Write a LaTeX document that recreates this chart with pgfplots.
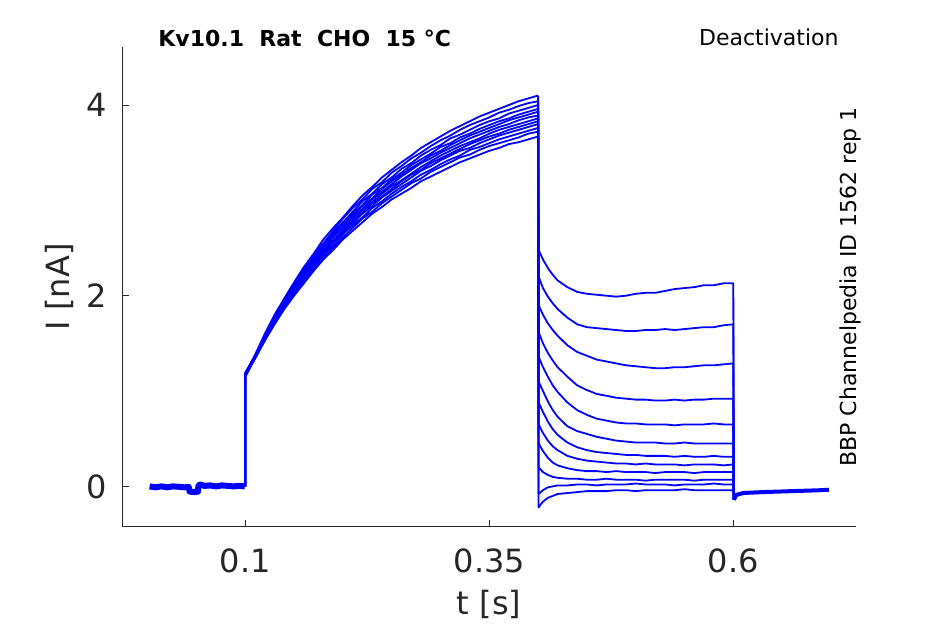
\documentclass[border=0pt]{standalone}
\usepackage{fontspec}
\setmainfont{DejaVu Sans}
\usepackage{pgfplots}
\usepackage{pgfplotstable}
\pgfplotsset{compat=1.18}
\definecolor{txt}{HTML}{262626}

% activation phase (0.1 s - 0.4 s), one column per sweep
\pgfplotstableread{
t a1 a2 a3 a4 a5 a6 a7 a8 a9 a10 a11 a12
0.10 0 0 0 0 0 0 0 0 0 0 0 0
0.10 1.18 1.16 1.19 1.17 1.18 1.15 1.19 1.17 1.16 1.18 1.17 1.15
0.11 1.38 1.36 1.37 1.37 1.35 1.36 1.37 1.35 1.36 1.34 1.35 1.34
0.12 1.60 1.57 1.58 1.58 1.56 1.57 1.55 1.56 1.54 1.55 1.53 1.53
0.13 1.80 1.78 1.78 1.77 1.75 1.76 1.74 1.74 1.74 1.72 1.72 1.70
0.14 1.97 1.97 1.94 1.94 1.93 1.91 1.91 1.90 1.89 1.89 1.87 1.86
0.15 2.14 2.13 2.10 2.10 2.09 2.07 2.07 2.05 2.05 2.03 2.02 2.00
0.16 2.30 2.27 2.27 2.24 2.24 2.22 2.21 2.19 2.19 2.16 2.16 2.13
0.17 2.44 2.43 2.40 2.39 2.37 2.36 2.34 2.33 2.32 2.30 2.28 2.26
0.18 2.59 2.55 2.54 2.51 2.51 2.48 2.47 2.45 2.44 2.42 2.39 2.38
0.19 2.71 2.68 2.66 2.64 2.62 2.61 2.58 2.57 2.56 2.53 2.51 2.48
0.20 2.82 2.81 2.77 2.76 2.73 2.72 2.69 2.68 2.66 2.64 2.61 2.59
0.21 2.94 2.92 2.88 2.86 2.84 2.82 2.80 2.78 2.76 2.74 2.71 2.68
0.22 3.05 3.01 2.99 2.95 2.94 2.91 2.90 2.87 2.86 2.82 2.81 2.77
0.23 3.14 3.12 3.07 3.06 3.02 3.01 2.98 2.97 2.94 2.92 2.88 2.86
0.24 3.24 3.19 3.17 3.13 3.12 3.09 3.07 3.04 3.03 2.99 2.97 2.93
0.25 3.32 3.29 3.24 3.22 3.20 3.17 3.15 3.12 3.10 3.07 3.04 3.01
0.26 3.40 3.36 3.33 3.29 3.27 3.25 3.21 3.20 3.17 3.14 3.11 3.07
0.27 3.47 3.44 3.39 3.37 3.34 3.32 3.28 3.27 3.24 3.20 3.18 3.13
0.28 3.55 3.50 3.47 3.43 3.40 3.39 3.35 3.32 3.31 3.27 3.23 3.20
0.29 3.61 3.57 3.53 3.49 3.47 3.44 3.41 3.39 3.36 3.32 3.30 3.25
0.30 3.67 3.63 3.58 3.56 3.52 3.50 3.47 3.44 3.42 3.38 3.35 3.30
0.31 3.73 3.68 3.65 3.60 3.58 3.55 3.52 3.49 3.47 3.43 3.40 3.35
0.32 3.78 3.74 3.69 3.66 3.63 3.60 3.57 3.54 3.52 3.47 3.45 3.40
0.33 3.83 3.79 3.74 3.70 3.68 3.65 3.61 3.59 3.55 3.53 3.48 3.44
0.34 3.88 3.83 3.79 3.75 3.72 3.69 3.65 3.63 3.60 3.56 3.53 3.48
0.35 3.92 3.87 3.83 3.79 3.76 3.73 3.70 3.67 3.64 3.60 3.57 3.52
0.36 3.96 3.92 3.86 3.83 3.80 3.77 3.74 3.70 3.68 3.64 3.60 3.55
0.37 4.00 3.95 3.91 3.86 3.84 3.80 3.77 3.74 3.71 3.67 3.63 3.59
0.38 4.04 3.99 3.94 3.90 3.87 3.84 3.80 3.77 3.74 3.70 3.66 3.61
0.39 4.07 4.02 3.97 3.93 3.90 3.87 3.83 3.80 3.77 3.73 3.70 3.64
0.40 4.10 4.04 4.00 3.96 3.93 3.89 3.86 3.83 3.80 3.76 3.72 3.67
}\act

% tail (deactivation) phase (0.4 s - 0.6 s)
\pgfplotstableread{
t b1 b2 b3 b4 b5 b6 b7 b8 b9 b10 b11 b12
0.400 4.10 4.04 4.00 3.96 3.93 3.89 3.86 3.83 3.80 3.76 3.72 3.67
0.4005 2.48 2.20 1.90 1.62 1.36 1.10 0.88 0.65 0.45 0.20 -0.08 -0.22
0.405 2.38 2.08 1.80 1.50 1.25 1.00 0.78 0.56 0.37 0.15 -0.04 -0.16
0.410 2.29 1.99 1.71 1.40 1.15 0.89 0.68 0.48 0.30 0.12 -0.01 -0.12
0.415 2.22 1.92 1.64 1.32 1.06 0.80 0.60 0.42 0.25 0.10 0.00 -0.10
0.420 2.16 1.86 1.58 1.25 0.99 0.73 0.54 0.38 0.22 0.09 0.01 -0.08
0.430 2.09 1.77 1.48 1.15 0.88 0.63 0.46 0.32 0.19 0.08 0.01 -0.07
0.440 2.04 1.70 1.41 1.06 0.80 0.58 0.41 0.29 0.17 0.08 0.02 -0.06
0.450 2.02 1.67 1.37 1.01 0.75 0.55 0.38 0.27 0.16 0.07 0.02 -0.05
0.460 2.01 1.66 1.33 0.97 0.71 0.52 0.36 0.26 0.16 0.07 0.01 -0.05
0.470 2.00 1.65 1.31 0.95 0.69 0.50 0.35 0.25 0.15 0.08 0.02 -0.05
0.480 1.99 1.64 1.29 0.93 0.67 0.48 0.34 0.24 0.16 0.07 0.02 -0.04
0.490 2.00 1.63 1.27 0.92 0.66 0.47 0.33 0.24 0.15 0.07 0.02 -0.04
0.500 2.02 1.63 1.26 0.91 0.66 0.46 0.33 0.23 0.15 0.07 0.03 -0.05
0.510 2.03 1.64 1.25 0.91 0.65 0.46 0.32 0.24 0.15 0.06 0.02 -0.04
0.520 2.03 1.64 1.24 0.90 0.65 0.46 0.32 0.23 0.14 0.07 0.02 -0.04
0.530 2.05 1.65 1.24 0.90 0.65 0.45 0.32 0.23 0.15 0.07 0.02 -0.04
0.540 2.07 1.64 1.25 0.91 0.64 0.45 0.31 0.23 0.15 0.07 0.01 -0.04
0.550 2.08 1.65 1.25 0.90 0.65 0.46 0.32 0.22 0.15 0.07 0.02 -0.03
0.560 2.09 1.66 1.26 0.91 0.65 0.45 0.31 0.23 0.14 0.06 0.02 -0.04
0.570 2.11 1.67 1.27 0.91 0.65 0.45 0.31 0.23 0.15 0.07 0.02 -0.04
0.580 2.11 1.67 1.27 0.92 0.66 0.45 0.32 0.23 0.15 0.07 0.03 -0.04
0.590 2.13 1.69 1.28 0.92 0.65 0.45 0.31 0.22 0.15 0.07 0.02 -0.04
0.600 2.13 1.70 1.29 0.92 0.65 0.45 0.31 0.23 0.15 0.07 0.02 -0.04
0.6005 -0.14 -0.14 -0.14 -0.14 -0.14 -0.14 -0.14 -0.14 -0.14 -0.14 -0.14 -0.14
}\tail

\begin{document}
\begin{tikzpicture}
\begin{axis}[
  at={(0,0)}, anchor=south west,
  scale only axis,
  width=366.85pt, height=239.85pt,
  xmin=-0.026, xmax=0.7257,
  ymin=-0.423, ymax=4.609,
  axis x line=bottom, axis y line=left,
  axis line style={-, draw=txt, line width=0.5pt},
  tick align=inside,
  major tick length=3.5pt,
  tick style={draw=txt, line width=0.5pt},
  xtick={0.1,0.35,0.6}, xticklabels={0.1,0.35,0.6},
  ytick={0,2,4}, yticklabels={0,2,4},
  /pgf/number format/assume math mode=true,
  ticklabel style={font=\fontsize{16}{19}\selectfont, text=txt},
  xticklabel style={anchor=north, inner sep=0pt, yshift=-10.65pt},
  yticklabel style={anchor=east, inner sep=0pt, xshift=-7.65pt},
  xlabel={t [s]}, ylabel={I [nA]},
  label style={font=\fontsize{16}{19}\selectfont, text=txt},
  xlabel style={at={(axis description cs:0.5,-0.163)}, anchor=center},
  ylabel style={at={(axis description cs:-0.085,0.5)}, anchor=center},
  clip=false,
]
% baseline before the step (overlapping sweeps, drawn as a band)
\addplot[blue, line width=3pt, line join=round] coordinates {
(0.002,0.00) (0.008,-0.01) (0.014,0.00) (0.020,-0.01) (0.026,0.00)
(0.032,-0.005) (0.038,-0.01) (0.042,-0.005) (0.043,-0.055) (0.048,-0.06)
(0.0515,-0.055) (0.052,0.01) (0.054,0.02) (0.058,0.005) (0.064,0.01)
(0.070,0.00) (0.076,0.01) (0.082,0.005) (0.088,0.00) (0.094,0.005) (0.0995,0.00)
};
% after the tail step
\addplot[blue, line width=2pt, line join=round] coordinates {
(0.6005,-0.14) (0.603,-0.09) (0.61,-0.07) (0.62,-0.065) (0.63,-0.06)
(0.645,-0.055) (0.66,-0.05) (0.675,-0.045) (0.69,-0.04) (0.698,-0.035)
};
\pgfplotsinvokeforeach{1,...,12}{
  \addplot[blue, line width=0.9pt, line join=round] table[x=t, y=a#1] {\act};
  \addplot[blue, line width=0.9pt, line join=round] table[x=t, y=b#1] {\tail};
}
\node[anchor=base west, inner sep=0pt, text=black, font=\fontsize{11}{13}\selectfont\bfseries]
  at (axis description cs:0.0487,1.002) {Kv10.1\ \ Rat\ \ CHO\ \ 15 °C};
\node[anchor=base east, inner sep=0pt, text=black, font=\fontsize{11}{13}\selectfont]
  at (axis description cs:0.9768,1.0021) {Deactivation};
\node[anchor=base west, rotate=90, inner sep=0pt, text=black, font=\fontsize{11}{13}\selectfont]
  at (axis description cs:1.001,0.1245) {BBP Channelpedia ID 1562 rep 1};
\end{axis}
\pgfresetboundingbox
\path[use as bounding box] (-61.15pt,-48.65pt) rectangle (411.35pt,263.35pt);
\end{tikzpicture}
\end{document}
